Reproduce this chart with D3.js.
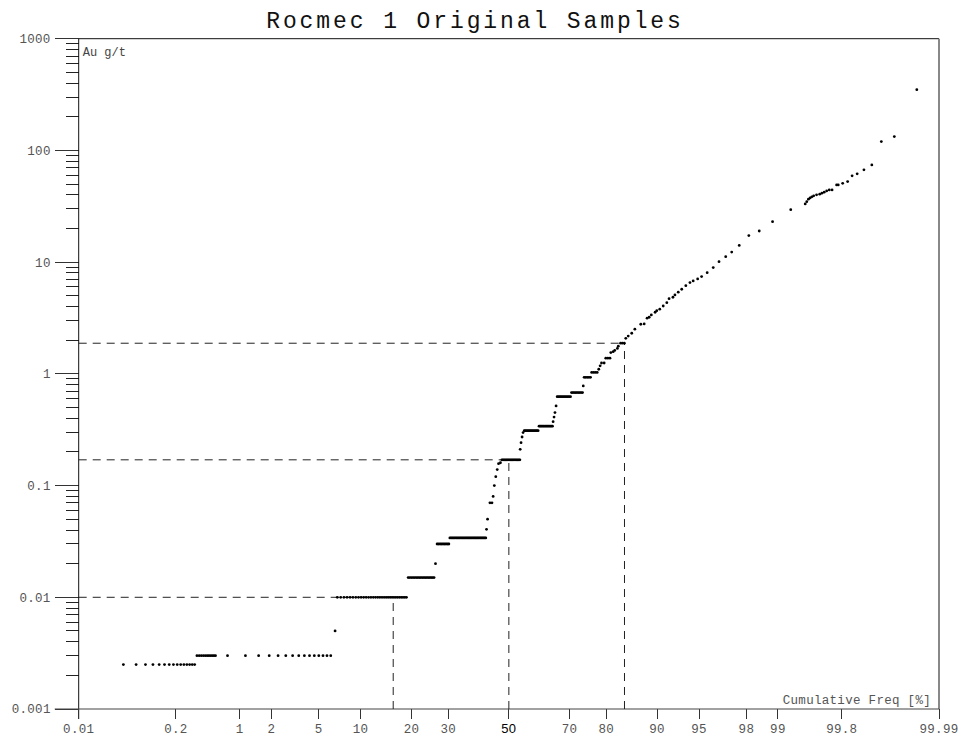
<!DOCTYPE html>
<html><head><meta charset="utf-8">
<script src="https://cdn.jsdelivr.net/npm/d3@7"></script>
<style>
html,body{margin:0;padding:0;background:#fff;}
svg{display:block;font-family:"Liberation Mono","DejaVu Sans Mono",monospace;}
</style></head>
<body>
<svg id="chart" width="963" height="740"></svg>
<script>
// ---------------- data ----------------
const title = "Rocmec 1 Original Samples";
const yLabel = "Au g/t";
const xLabel = "Cumulative Freq [%]";
const xTicks = [0.01, 0.2, 1, 2, 5, 10, 20, 30, 50, 70, 80, 90, 95, 98, 99, 99.8, 99.99];
const yTicks = [0.001, 0.01, 0.1, 1, 10, 100, 1000];
const yTickLabels = ["0.001", "0.01", "0.1", "1", "10", "100", "1000"];

// plateaus of equal grade: grade, cumulative freq from/to (%), number of samples
const runGrade = [0.0025, 0.003, 0.003, 0.01, 0.015, 0.03, 0.034, 0.17, 0.31, 0.34, 0.625, 0.68, 0.93, 1.03, 1.25, 1.38, 1.88];
const runFrom  = [0.043, 0.35, 0.75, 6.9, 19.2, 26.75, 30.5, 47.6, 55.3, 60.3, 66.2, 70.6, 74.25, 76.3, 78.85, 79.9, 83.3];
const runTo    = [0.33, 0.56, 6.18, 18.8, 25.9, 30.2, 42.1, 53.8, 60.0, 64.7, 70.3, 73.8, 76.0, 77.75, 79.5, 80.9, 84.1];
const runCount = [15, 11, 15, 31, 18, 9, 31, 16, 13, 12, 11, 9, 5, 4, 2, 3, 3];

// individual samples: cumulative freq (%), grade (g/t)
const ptFreq = [6.65, 26.3, 42.35, 42.7, 43.5, 44.2, 44.6, 45.0, 45.5, 46.0, 46.45, 47.1,
  53.9, 54.2, 54.55, 54.9, 64.9, 65.2, 65.5, 65.85, 74.0, 78.15, 78.5, 81.1, 81.65, 82.0, 82.6, 82.8,
  84.4, 84.9, 85.6, 86.2, 87.3, 87.9, 88.4, 88.75, 89.1, 89.7, 89.95, 90.4, 90.9, 91.4, 91.7, 92.2,
  92.45, 92.85, 93.25, 93.7, 94.13, 94.45, 94.87, 95.22, 95.68, 96.14, 96.54, 96.96, 97.3, 97.68,
  98.1, 98.48, 98.87, 99.26, 99.48, 99.50, 99.52, 99.54, 99.56, 99.58, 99.61, 99.64, 99.66, 99.68,
  99.70, 99.72, 99.74, 99.77, 99.78, 99.805, 99.83, 99.85, 99.87, 99.893, 99.915, 99.936, 99.957, 99.979];
const ptGrade = [0.005, 0.02, 0.0406, 0.05, 0.07, 0.07, 0.08, 0.10, 0.12, 0.139, 0.157, 0.16,
  0.211, 0.242, 0.272, 0.298, 0.373, 0.41, 0.45, 0.516, 0.78, 1.10, 1.18, 1.55, 1.58, 1.62, 1.69, 1.77,
  2.08, 2.18, 2.31, 2.51, 2.78, 2.8, 3.15, 3.21, 3.37, 3.56, 3.68, 3.79, 4.05, 4.34, 4.71, 4.85,
  5.09, 5.38, 5.72, 6.16, 6.56, 6.79, 7.08, 7.42, 8.05, 8.93, 10.1, 11.2, 12.3, 14.1,
  17.3, 19.0, 23.0, 29.5, 33.2, 34.8, 36.6, 37.6, 38.4, 39.2, 40.0, 40.6, 41.4, 42.3,
  43.4, 44.3, 44.3, 49.1, 49.1, 50.8, 52.6, 59.2, 61.7, 67.0, 74.2, 120, 133, 350];

// reference percentiles (16 %, 50 %, 84 %) and their grades
const refFreq  = [15.87, 50, 84.13];
const refGrade = [0.01, 0.17, 1.88];

// ---------------- drawing ----------------
function probit(p){
  const a=[-3.969683028665376e+01,2.209460984245205e+02,-2.759285104469687e+02,1.383577518672690e+02,-3.066479806614716e+01,2.506628277459239e+00];
  const b=[-5.447609879822406e+01,1.615858368580409e+02,-1.556989798598866e+02,6.680131188771972e+01,-1.328068155288572e+01];
  const c=[-7.784894002430293e-03,-3.223964580411365e-01,-2.400758277161838e+00,-2.549732539343734e+00,4.374664141464968e+00,2.938163982698783e+00];
  const d=[7.784695709041462e-03,3.224671290700398e-01,2.445134137142996e+00,3.754408661907416e+00];
  const pl=0.02425, ph=1-pl; let q,r;
  if(p<pl){q=Math.sqrt(-2*Math.log(p));return (((((c[0]*q+c[1])*q+c[2])*q+c[3])*q+c[4])*q+c[5])/((((d[0]*q+d[1])*q+d[2])*q+d[3])*q+1);}
  if(p<=ph){q=p-0.5;r=q*q;return (((((a[0]*r+a[1])*r+a[2])*r+a[3])*r+a[4])*r+a[5])*q/(((((b[0]*r+b[1])*r+b[2])*r+b[3])*r+b[4])*r+1);}
  q=Math.sqrt(-2*Math.log(1-p));return -(((((c[0]*q+c[1])*q+c[2])*q+c[3])*q+c[4])*q+c[5])/((((d[0]*q+d[1])*q+d[2])*q+d[3])*q+1);
}

const L = 78.7, R = 939, T = 38.7, B = 709;
const zScale = d3.scaleLinear().domain([probit(0.0001), probit(0.9999)]).range([L, R]);
const x = pct => zScale(probit(pct / 100));
const y = d3.scaleLog().domain([0.001, 1000]).range([B, T]);

const svg = d3.select("#chart");

// title
svg.append("text").attr("x", 475).attr("y", 28).attr("text-anchor", "middle")
  .attr("font-size", 23).attr("letter-spacing", 2.9).attr("fill", "#111").text(title);

// frame
svg.append("line").attr("x1", L).attr("x2", R).attr("y1", T).attr("y2", T).attr("stroke", "#111").attr("stroke-width", 1);
svg.append("line").attr("x1", R).attr("x2", R).attr("y1", T).attr("y2", B).attr("stroke", "#888").attr("stroke-width", 2);

// y axis
const yAxis = svg.append("g");
const minor = [];
for (let k = -3; k < 3; k++) for (let m = 2; m <= 9; m++) minor.push(m * Math.pow(10, k));
yAxis.selectAll("line.minor").data(minor).join("line").attr("class", "minor")
  .attr("x1", L - 13).attr("x2", L).attr("y1", d => y(d)).attr("y2", d => y(d))
  .attr("stroke", "#222").attr("stroke-width", 1).attr("shape-rendering", "crispEdges");
yAxis.selectAll("line.major").data(yTicks).join("line").attr("class", "major")
  .attr("x1", L - 24).attr("x2", L).attr("y1", d => y(d)).attr("y2", d => y(d))
  .attr("stroke", "#333").attr("stroke-width", 1).attr("shape-rendering", "crispEdges");
yAxis.selectAll("text").data(yTicks).join("text")
  .attr("x", L - 28).attr("y", d => y(d)).attr("dy", "0.35em").attr("text-anchor", "end")
  .attr("font-size", 12.5).attr("letter-spacing", 0.3).attr("fill", "#555")
  .text((d, i) => yTickLabels[i]);
svg.append("line").attr("x1", L).attr("x2", L).attr("y1", T).attr("y2", B + 10).attr("stroke", "#111").attr("stroke-width", 1);

// x axis
const xAxis = svg.append("g");
svg.append("line").attr("x1", L - 24).attr("x2", R).attr("y1", B).attr("y2", B).attr("stroke", "#444").attr("stroke-width", 1.2);
xAxis.selectAll("line").data(xTicks).join("line")
  .attr("x1", d => x(d)).attr("x2", d => x(d)).attr("y1", B).attr("y2", B + 10)
  .attr("stroke", "#333").attr("stroke-width", 1).attr("shape-rendering", "crispEdges");
xAxis.selectAll("text").data(xTicks).join("text")
  .attr("x", d => x(d)).attr("y", B + 24).attr("text-anchor", "middle")
  .attr("letter-spacing", 0.3)
  .attr("fill", d => d === 50 ? "#000" : "#555")
  .attr("font-family", d => d === 50 ? "'Liberation Sans', Arial, sans-serif" : null)
  .attr("font-size", d => d === 50 ? 13 : 12.5)
  .text(d => String(d));

// labels
svg.append("text").attr("x", L + 4).attr("y", 56).attr("font-size", 12).attr("fill", "#444").text(yLabel);
svg.append("text").attr("x", R - 8).attr("y", B - 5).attr("text-anchor", "end").attr("font-size", 12.5).attr("letter-spacing", 0.3).attr("fill", "#555").text(xLabel);

// reference dashed lines
const ref = svg.append("g").attr("stroke", "#222").attr("stroke-width", 1).attr("stroke-dasharray", "8,6").attr("fill", "none");
refFreq.forEach((f, i) => {
  ref.append("line").attr("x1", L).attr("x2", x(f)).attr("y1", y(refGrade[i])).attr("y2", y(refGrade[i]));
  ref.append("line").attr("x1", x(f)).attr("x2", x(f)).attr("y1", B).attr("y2", y(refGrade[i]));
});

// points
const pts = [];
runGrade.forEach((g, i) => {
  const n = runCount[i];
  for (let k = 0; k < n; k++) {
    const f = n > 1 ? runFrom[i] + (runTo[i] - runFrom[i]) * k / (n - 1) : runFrom[i];
    pts.push({f, g});
  }
});
ptFreq.forEach((f, i) => pts.push({f, g: ptGrade[i]}));
svg.append("g").selectAll("circle").data(pts).join("circle")
  .attr("cx", d => x(d.f)).attr("cy", d => y(d.g)).attr("r", 1.4).attr("fill", "#000");
</script>
</body></html>
